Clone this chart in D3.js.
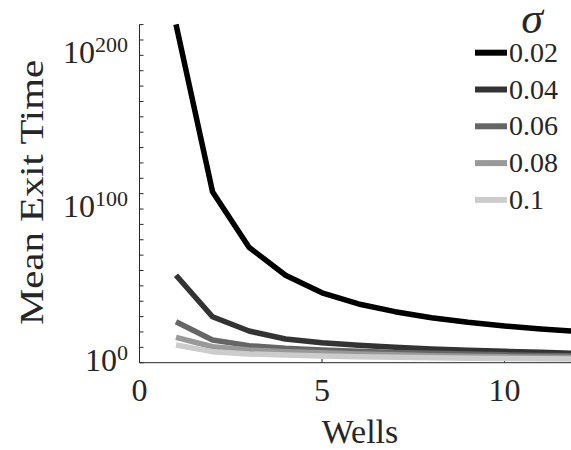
<!DOCTYPE html>
<html>
<head>
<meta charset="utf-8">
<script src="https://cdn.jsdelivr.net/npm/d3@7"></script>
<style>
    body { margin: 0; background: #fff; }
    text { font-family: "Liberation Serif", "Times New Roman", "DejaVu Serif", serif; fill: #262626; }
</style>
</head>
<body>
<div id="chart"></div>
<script>
// wells on the x axis
const wells = [1, 2, 3, 4, 5, 6, 7, 8, 9, 10, 11, 12];

// mean exit time, stored as log10 exponents
const sigmas = ["0.02", "0.04", "0.06", "0.08", "0.1"];
const exit002 = [220.2, 111.3, 75.1, 56.9, 45.5, 38.2, 33.2, 29.3, 26.3, 23.9, 21.9, 20.3];
const exit004 = [56.9, 29.9, 20.6, 15.4, 13.0, 11.3, 10.0, 8.9, 8.1, 7.4, 6.8, 6.1];
const exit006 = [26.7, 14.8, 11.1, 9.4, 8.3, 7.4, 6.7, 6.1, 5.6, 5.1, 4.7, 4.4];
const exit008 = [16.5, 10.4, 8.3, 7.2, 6.4, 5.7, 5.1, 4.6, 4.2, 3.8, 3.5, 3.3];
const exit010 = [11.5, 7.2, 5.7, 5.0, 4.4, 3.9, 3.5, 3.2, 2.9, 2.7, 2.5, 2.3];
const series = [exit002, exit004, exit006, exit008, exit010];

// tick labels
const xTicks = [0, 5, 10];
const yMajor = [0, 100, 200];
const yMinor = d3.range(0, 221, 10);

const colors = ["#000000", "#333333", "#666666", "#999999", "#cccccc"];

const W = 571, H = 450;
const x0 = 139.5, xEnd = 577.5, yBottom = 362.7, yTop = 24.3;

const svg = d3.select("#chart").append("svg")
    .attr("width", W)
    .attr("height", H);

const x = d3.scaleLinear().domain([0, 12]).range([x0, xEnd]);
const y = d3.scaleLog().domain([1, Math.pow(10, 220.2)]).range([yBottom, yTop]);

// clip to the plot box
svg.append("clipPath").attr("id", "plotclip")
    .append("rect")
    .attr("x", x0).attr("y", yTop - 4)
    .attr("width", W - x0).attr("height", yBottom - yTop + 4);

// axes lines
svg.append("line")
    .attr("x1", x0).attr("x2", x0)
    .attr("y1", yTop).attr("y2", yBottom)
    .attr("stroke", "#262626").attr("stroke-width", 1);
svg.append("line")
    .attr("x1", x0).attr("x2", W)
    .attr("y1", yBottom).attr("y2", yBottom)
    .attr("stroke", "#262626").attr("stroke-width", 1);

// y ticks (inward)
yMinor.forEach(e => {
    let yy = y(Math.pow(10, e));
    svg.append("line")
        .attr("x1", x0).attr("x2", x0 + 4)
        .attr("y1", yy).attr("y2", yy)
        .attr("stroke", "#262626").attr("stroke-width", 1);
});

yMajor.forEach(e => {
    let yy = y(Math.pow(10, e));
    let t = svg.append("text")
        .attr("x", 128)
        .attr("y", yy + 8)
        .attr("text-anchor", "end")
        .style("font-size", "32px");
    t.append("tspan").text("10");
    t.append("tspan")
        .attr("dy", -11)
        .style("font-size", "22px")
        .text(e);
});

// x ticks
xTicks.forEach(v => {
    svg.append("line")
        .attr("x1", x(v)).attr("x2", x(v))
        .attr("y1", yBottom).attr("y2", yBottom - 4)
        .attr("stroke", "#262626").attr("stroke-width", 1);
    svg.append("text")
        .attr("x", x(v))
        .attr("y", 401)
        .attr("text-anchor", "middle")
        .style("font-size", "32px")
        .text(v);
});

// axis labels
svg.append("text")
    .attr("x", 360)
    .attr("y", 443)
    .attr("text-anchor", "middle")
    .style("font-size", "34px")
    .text("Wells");

svg.append("text")
    .attr("transform", "translate(43,192.5) rotate(-90)")
    .attr("text-anchor", "middle")
    .attr("textLength", 265)
    .attr("lengthAdjust", "spacingAndGlyphs")
    .style("font-size", "34px")
    .text("Mean Exit Time");

// lines
let line = d3.line()
    .x((d, i) => x(wells[i]))
    .y(d => y(Math.pow(10, d)));

const plot = svg.append("g").attr("clip-path", "url(#plotclip)");
series.forEach((s, i) => {
    plot.append("path")
        .datum(s)
        .attr("d", line)
        .attr("fill", "none")
        .attr("stroke", colors[i])
        .attr("stroke-width", 5.5)
        .attr("stroke-linejoin", "round");
});

// legend
svg.append("text")
    .attr("x", 532)
    .attr("y", 33)
    .attr("text-anchor", "middle")
    .style("font-size", "44px")
    .style("font-style", "italic")
    .text("σ");

sigmas.forEach((s, i) => {
    let ly = 52.7 + i * 36.8;
    svg.append("line")
        .attr("x1", 475).attr("x2", 507)
        .attr("y1", ly).attr("y2", ly)
        .attr("stroke", colors[i])
        .attr("stroke-width", 6);
    svg.append("text")
        .attr("x", 509)
        .attr("y", ly + 9)
        .style("font-size", "28px")
        .text(s);
});
</script>
</body>
</html>
